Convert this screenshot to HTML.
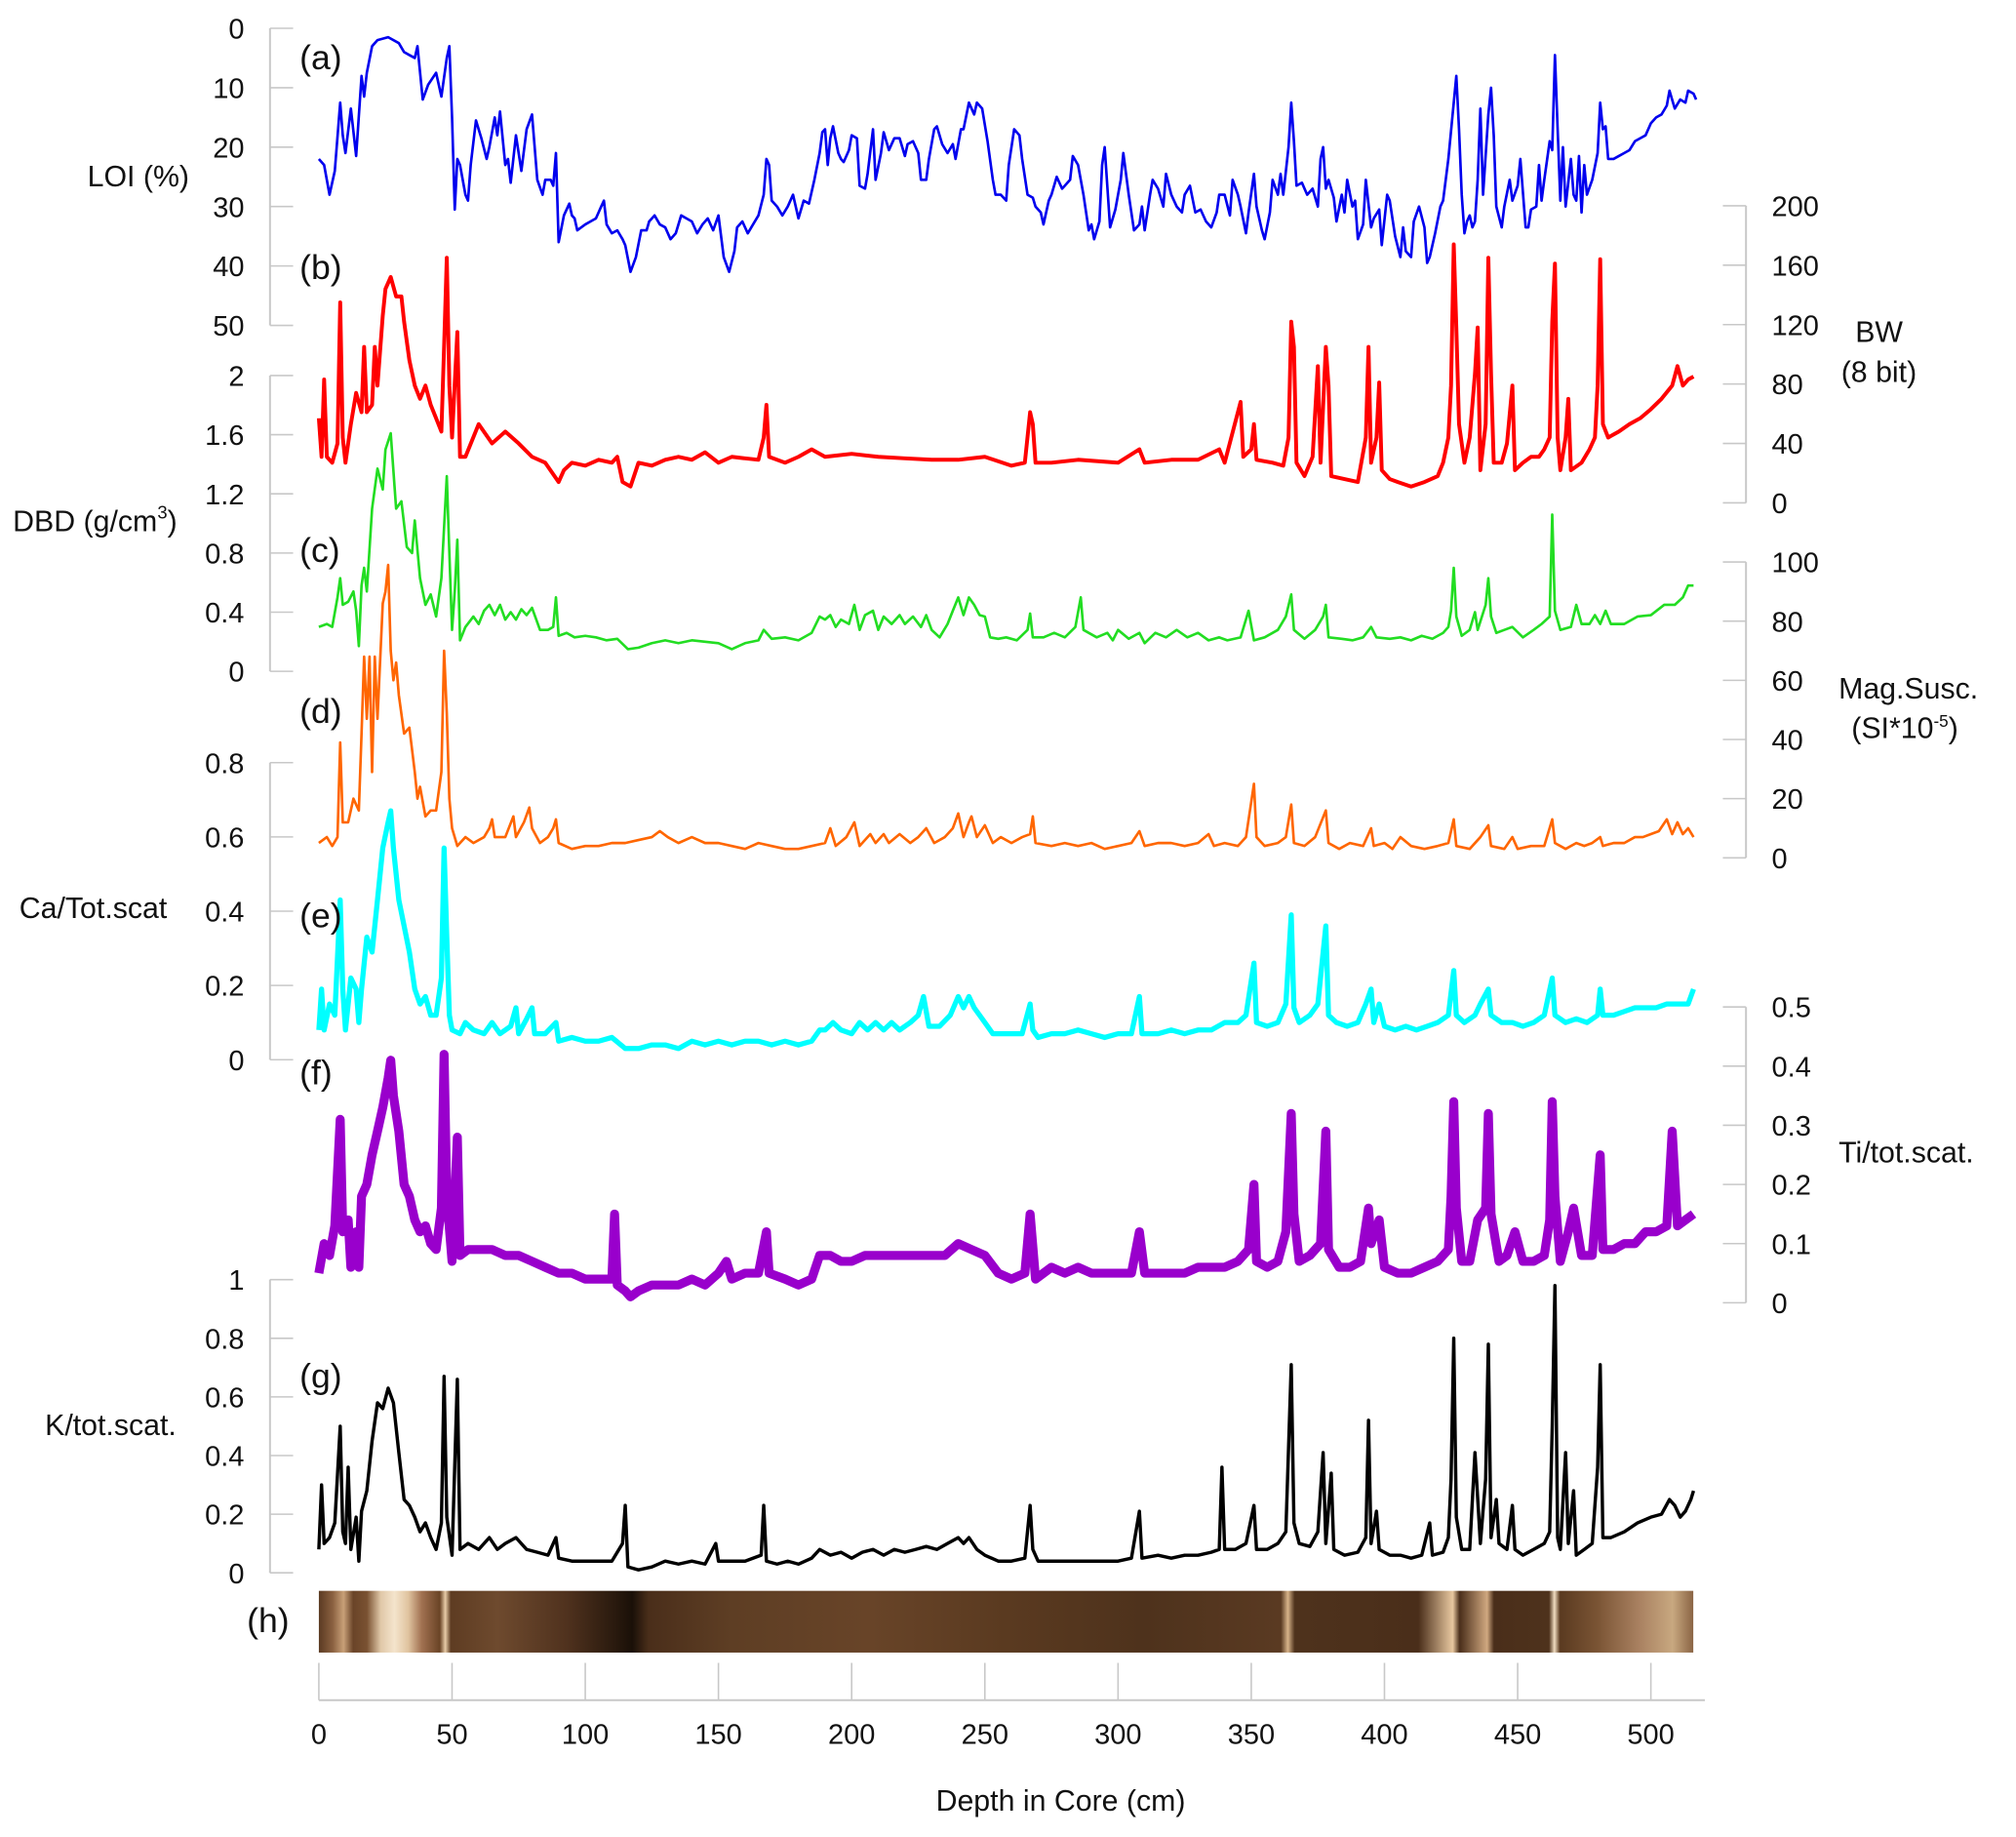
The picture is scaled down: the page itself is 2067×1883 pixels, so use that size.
<!DOCTYPE html>
<html>
<head>
<meta charset="utf-8">
<style>
html,body{margin:0;padding:0;background:#fff;}
svg{display:block;}
text{font-family:"Liberation Sans",Arial,sans-serif;fill:#111;}
</style>
</head>
<body>
<svg id="chart" xmlns="http://www.w3.org/2000/svg" width="2067" height="1883" viewBox="0 0 1568 1428.4">
<defs>
<linearGradient id="coreGrad" x1="0" x2="1" y1="0" y2="0">
<stop offset="0" stop-color="#5a3a22"/>
<stop offset="0.01" stop-color="#8a6040"/>
<stop offset="0.018" stop-color="#c8a078"/>
<stop offset="0.025" stop-color="#6a4428"/>
<stop offset="0.035" stop-color="#7a5232"/>
<stop offset="0.045" stop-color="#e0c8a8"/>
<stop offset="0.055" stop-color="#f4e4cc"/>
<stop offset="0.065" stop-color="#e0c4a0"/>
<stop offset="0.075" stop-color="#a07050"/>
<stop offset="0.088" stop-color="#6a4426"/>
<stop offset="0.092" stop-color="#e8cca8"/>
<stop offset="0.096" stop-color="#5e3c22"/>
<stop offset="0.13" stop-color="#6e4a2e"/>
<stop offset="0.18" stop-color="#50321e"/>
<stop offset="0.215" stop-color="#2a1a0e"/>
<stop offset="0.228" stop-color="#1a1008"/>
<stop offset="0.24" stop-color="#4a2e1a"/>
<stop offset="0.3" stop-color="#5e3e24"/>
<stop offset="0.4" stop-color="#684428"/>
<stop offset="0.5" stop-color="#5a3a20"/>
<stop offset="0.6" stop-color="#4e321c"/>
<stop offset="0.7" stop-color="#5a3a22"/>
<stop offset="0.705" stop-color="#d8b48a"/>
<stop offset="0.71" stop-color="#4e321c"/>
<stop offset="0.8" stop-color="#4a2e1a"/>
<stop offset="0.825" stop-color="#e8c8a0"/>
<stop offset="0.83" stop-color="#4a2e1a"/>
<stop offset="0.85" stop-color="#d0a880"/>
<stop offset="0.855" stop-color="#4a2e1a"/>
<stop offset="0.895" stop-color="#4e321c"/>
<stop offset="0.899" stop-color="#f0dcc0"/>
<stop offset="0.903" stop-color="#5a3a20"/>
<stop offset="0.93" stop-color="#7a5434"/>
<stop offset="0.96" stop-color="#a88060"/>
<stop offset="0.985" stop-color="#c8a880"/>
<stop offset="1" stop-color="#8a6444"/>
</linearGradient>
</defs>
<g id="axes"></g>
<g id="series"></g>
<rect x="248" y="1237" width="1069" height="48" fill="url(#coreGrad)"/>
<g id="labels">
<text x="233" y="54" font-size="27">(a)</text>
<text x="233" y="217" font-size="27">(b)</text>
<text x="233" y="437" font-size="27">(c)</text>
<text x="233" y="562" font-size="27">(d)</text>
<text x="233" y="721" font-size="27">(e)</text>
<text x="233" y="843" font-size="27">(f)</text>
<text x="233" y="1079" font-size="27">(g)</text>
<text x="192" y="1269" font-size="27">(h)</text>
<text x="68" y="145" font-size="23">LOI (%)</text>
<text x="10" y="413" font-size="23">DBD (g/cm<tspan font-size="14" dy="-10">3</tspan><tspan dy="10">)</tspan></text>
<text x="15" y="714" font-size="23">Ca/Tot.scat</text>
<text x="35" y="1116" font-size="23">K/tot.scat.</text>
<text x="1443" y="266" font-size="23">BW</text>
<text x="1432" y="297" font-size="23">(8 bit)</text>
<text x="1430" y="543" font-size="23">Mag.Susc.</text>
<text x="1440" y="574" font-size="23">(SI*10<tspan font-size="13" dy="-9">-5</tspan><tspan dy="9">)</tspan></text>
<text x="1430" y="904" font-size="23">Ti/tot.scat.</text>
<text x="825" y="1408" font-size="23" text-anchor="middle">Depth in Core (cm)</text>
</g>
</svg>
<script>
// ---------- data ----------
const loiDepth=[0,2,4,6,8,9,10,12,14,16,17,18,20,22,26,30,32,34,36,37,39,41,44,46,48,49,50,51,52,53,55,56,57,59,61,63,64,66,67,68,70,71,72,74,76,78,80,82,84,85,87,88,89,90,92,94,95,96,97,100,102,104,106,107,108,110,112,114,115,117,119,121,123,124,126,128,130,132,134,136,138,140,142,144,146,148,150,152,154,156,157,159,161,163,165,167,168,169,170,172,174,176,178,180,182,184,186,188,189,190,191,192,193,195,196,197,199,200,202,203,205,206,208,209,211,212,214,216,218,220,221,223,225,226,228,229,231,232,234,236,238,239,241,242,244,246,247,249,251,253,254,256,258,259,261,263,264,266,268,269,271,272,274,275,277,279,280,282,283,285,287,289,290,291,293,294,295,297,299,301,302,304,306,308,309,310,312,313,315,317,318,320,322,324,325,327,329,331,333,335,337,338,340,342,343,345,346,348,349,351,352,354,355,357,358,360,361,362,364,365,366,367,369,371,373,375,376,377,378,379,381,382,384,385,386,388,389,390,392,393,395,396,398,399,401,402,404,406,407,408,410,411,413,415,416,417,419,421,422,424,426,427,428,429,430,431,432,433,434,435,436,437,439,440,441,442,444,445,447,448,450,451,453,454,455,457,458,459,460,462,463,464,465,466,467,468,470,471,472,473,474,475,476,478,480,481,482,483,484,486,488,490,492,494,496,498,500,502,504,506,507,509,511,513,514,516,517];
const loiValue=[22,23,28,24,12.5,18,21,13.5,21.5,8,11.5,7.5,3,2,1.5,2.5,4,4.5,5,3,12,9.5,7.5,11.5,5,3,15,30.5,22,23,28,29,23,15.5,18.5,22,20,15,18,14,23,22,26,18,24,17,14.5,25.5,28,25.5,25.5,26.5,21,36,31.5,29.5,31.5,32,34,33,32.5,32,30,29,33,34.5,34,35.5,36.5,41,38.5,34,34,32.5,31.5,33,33.5,35.5,34.5,31.5,32,32.5,34.5,33,32,34,31.5,38.5,41,37.5,33.5,32.5,34.5,33,31.5,28,22,23,29,30,31.5,30,28,32,29,29.5,25.5,21,17.5,17,23,18.5,16.5,21,22,22.5,20.5,18,18.5,26.5,27,24.5,17,25.5,21,17.5,20.5,18.5,18.5,21.5,19.5,19,21,25.5,25.5,22,17,16.5,19.5,21,19.5,22,17,17,12.5,14.5,12.5,13.5,19,25.5,28,28,29,23,17,18,22,28,28.5,30,31,33,29,28,25,27,26.5,25.5,21.5,23,28,34,33,35.5,32.5,23,20,33.5,30.5,25.5,21,28,34,33,30,34,28,25.5,27,30,24.5,28,30,31,28,26.5,31,30.5,32.5,33.5,31,28,28,31.5,25.5,28,30,34.5,31,24.5,30,34,35.5,31,25.5,28,24.5,28,20,12.5,19,26.5,26,28,27,30,22,20,27,25.5,28.5,32.5,28,31,25.5,30,29,35.5,33,25.5,33.5,32,30.5,36.5,28,29,35,38.5,33.5,37.5,38.5,32.5,30,33.5,39.5,38.5,34.5,30,29,22,12.5,8,17,28,34.5,32.5,31.5,33.5,32.5,25.5,13.5,28,14.5,10,18,30,33.5,30,25.5,29,26.5,22,33.5,33.5,30.5,30,23,29,25.5,19,20.5,4.5,17,29,20,30,22,28,29,21.5,31,23,28,25.5,21,12.5,17,16.5,22,22,21.5,21,20.5,19,18.5,18,16,15,14.5,13,10.5,13.5,12,12.5,10.5,11,12];

const bwDepth=[0,1,2,3,5,7,8,9,10,12,14,16,17,18,20,21,22,24,25,27,29,31,32,34,36,38,40,42,44,46,47,48,49,50,52,53,55,60,65,70,75,80,85,90,92,95,100,105,110,112,114,117,120,125,130,135,140,145,150,155,160,165,167,168,169,175,180,185,190,200,210,220,230,240,250,260,265,267,268,269,275,285,300,308,310,320,330,338,340,346,347,350,351,352,358,362,364,365,366,367,370,373,375,376,378,379,380,385,390,393,394,395,397,398,399,402,405,410,415,420,422,424,425,426,427,428,430,432,434,435,436,438,439,440,441,444,446,448,449,452,455,458,460,462,463,464,465,466,468,469,470,474,477,479,480,481,482,484,488,492,496,500,504,508,510,512,514,516];
const bwValue=[57,31,83,31,27,40,135,44,27,53,74,61,105,61,66,105,79,126,144,152,139,139,122,96,79,70,79,66,57,48,105,165,79,44,115,31,31,53,40,48,40,31,27,14,22,27,25,29,27,31,14,11,27,25,29,31,29,34,27,31,30,29,44,66,31,27,31,36,31,33,31,30,29,29,31,25,27,61,53,27,27,29,27,36,27,29,29,36,27,68,31,36,53,29,27,25,44,122,105,27,18,31,92,27,105,79,18,16,14,44,105,27,44,81,22,16,14,11,14,18,27,44,79,174,118,53,27,44,87,118,22,53,165,87,27,27,40,79,22,27,31,31,36,44,122,161,44,22,44,70,22,27,36,44,79,164,53,44,48,53,57,63,70,79,92,79,83,85];

const dbdDepth=[0,3,5,7,8,9,11,13,14,15,16,17,18,20,22,24,25,27,29,31,33,35,36,38,40,42,44,46,48,49,50,51,52,53,55,58,60,62,64,66,68,70,72,74,76,78,80,83,86,88,89,90,93,96,100,104,108,112,116,120,125,130,135,140,145,150,155,160,165,167,170,175,180,185,188,190,192,194,196,199,201,203,205,208,210,212,215,218,220,223,226,228,230,233,236,238,240,242,244,246,248,250,252,255,258,262,266,267,268,272,276,280,284,286,287,292,296,298,300,304,308,310,314,318,322,326,330,334,338,341,346,349,351,355,360,363,365,366,370,374,377,378,379,384,388,392,395,397,402,406,410,414,418,422,424,425,426,427,429,432,434,435,438,439,440,442,445,448,452,456,459,462,463,464,466,470,472,474,477,479,481,483,485,490,495,500,505,509,512,514,516];
const dbdValue=[0.30,0.32,0.30,0.50,0.63,0.45,0.47,0.54,0.41,0.17,0.58,0.70,0.54,1.10,1.37,1.23,1.50,1.61,1.10,1.15,0.84,0.80,1.02,0.63,0.45,0.52,0.37,0.63,1.32,0.80,0.28,0.54,0.89,0.21,0.30,0.37,0.32,0.41,0.45,0.38,0.45,0.35,0.40,0.35,0.42,0.38,0.43,0.28,0.28,0.30,0.50,0.24,0.26,0.23,0.24,0.23,0.21,0.22,0.15,0.16,0.19,0.21,0.19,0.21,0.20,0.19,0.15,0.19,0.21,0.28,0.22,0.23,0.21,0.26,0.37,0.35,0.38,0.30,0.35,0.32,0.45,0.28,0.38,0.41,0.28,0.37,0.32,0.38,0.32,0.37,0.30,0.38,0.28,0.23,0.32,0.41,0.50,0.38,0.50,0.45,0.38,0.37,0.23,0.22,0.23,0.21,0.28,0.39,0.23,0.23,0.26,0.23,0.30,0.50,0.28,0.23,0.26,0.21,0.28,0.22,0.26,0.19,0.26,0.23,0.28,0.23,0.26,0.21,0.23,0.21,0.23,0.41,0.21,0.23,0.28,0.37,0.52,0.28,0.22,0.28,0.37,0.45,0.23,0.22,0.21,0.23,0.30,0.23,0.22,0.23,0.21,0.24,0.22,0.26,0.30,0.41,0.70,0.37,0.24,0.28,0.40,0.28,0.45,0.63,0.37,0.26,0.28,0.30,0.23,0.28,0.32,0.37,1.06,0.41,0.28,0.30,0.45,0.32,0.32,0.38,0.32,0.41,0.32,0.32,0.37,0.38,0.45,0.45,0.50,0.58,0.58];

const magDepth=[0,3,5,7,8,9,11,13,15,16,17,18,19,20,21,22,24,25,26,27,28,29,30,32,34,36,37,38,40,42,44,46,47,48,49,50,52,55,58,62,64,65,66,70,73,74,77,79,80,83,86,88,89,90,95,100,105,110,115,120,125,128,131,135,140,145,150,155,160,165,170,175,180,185,190,192,194,198,201,203,207,209,212,214,218,222,225,228,231,235,238,240,242,244,245,247,250,253,256,260,264,267,268,269,275,280,285,290,295,300,305,308,310,315,320,325,330,334,336,340,345,348,351,352,355,360,363,365,366,370,374,378,379,383,387,392,395,396,400,403,406,410,415,420,424,426,427,432,436,439,440,445,448,450,455,460,463,464,468,472,475,478,481,482,486,490,494,497,500,503,506,508,510,512,514,516];
const magValue=[5,7,4,7,39,12,12,20,16,42,68,47,68,29,68,47,86,90,99,70,60,66,55,42,44,29,20,24,14,16,16,29,70,49,20,10,4,7,5,7,10,13,7,7,14,7,12,17,10,5,7,10,13,5,3,4,4,5,5,6,7,9,7,5,7,5,5,4,3,5,4,3,3,4,5,10,4,7,12,4,8,5,8,5,8,5,7,10,5,7,10,15,7,12,14,7,11,5,7,5,7,8,14,5,4,5,4,5,3,4,5,9,4,5,5,4,5,8,4,5,4,7,25,7,4,5,7,18,5,4,7,16,5,3,5,4,10,4,5,3,7,4,3,4,5,13,4,3,7,11,4,3,7,3,4,4,13,5,3,5,4,5,7,4,5,5,7,7,8,9,13,8,12,8,10,7];

const caDepth=[0,1,2,4,6,8,9,10,12,14,15,16,18,20,22,24,26,27,28,30,32,34,36,38,40,42,44,46,47,48,49,50,53,55,58,62,65,68,72,74,75,78,80,81,85,89,90,95,100,105,110,115,120,125,130,135,140,145,150,155,160,165,170,175,180,185,188,190,193,196,200,203,206,209,212,215,218,222,225,227,229,233,237,240,242,244,246,248,250,253,257,260,264,267,268,270,275,280,285,290,295,300,305,308,309,315,320,325,330,335,340,345,348,351,352,356,360,363,365,366,368,372,375,378,379,382,386,390,393,395,396,398,400,404,408,412,416,420,424,426,427,430,434,436,439,440,444,448,452,456,460,463,464,468,472,476,480,481,482,486,490,494,498,502,506,510,514,516];
const caValue=[0.08,0.19,0.08,0.15,0.12,0.43,0.19,0.08,0.22,0.19,0.10,0.19,0.33,0.29,0.43,0.57,0.64,0.67,0.57,0.43,0.36,0.29,0.19,0.15,0.17,0.12,0.12,0.22,0.57,0.33,0.12,0.08,0.07,0.10,0.08,0.07,0.10,0.07,0.09,0.14,0.07,0.11,0.14,0.07,0.07,0.10,0.05,0.06,0.05,0.05,0.06,0.03,0.03,0.04,0.04,0.03,0.05,0.04,0.05,0.04,0.05,0.05,0.04,0.05,0.04,0.05,0.08,0.08,0.10,0.08,0.07,0.10,0.08,0.10,0.08,0.10,0.08,0.10,0.12,0.17,0.09,0.09,0.12,0.17,0.14,0.17,0.14,0.12,0.10,0.07,0.07,0.07,0.07,0.15,0.08,0.06,0.07,0.07,0.08,0.07,0.06,0.07,0.07,0.17,0.07,0.07,0.08,0.07,0.08,0.08,0.10,0.10,0.12,0.26,0.10,0.09,0.10,0.15,0.39,0.14,0.10,0.12,0.15,0.36,0.12,0.10,0.09,0.10,0.15,0.19,0.10,0.15,0.09,0.08,0.09,0.08,0.09,0.10,0.12,0.24,0.12,0.10,0.12,0.15,0.19,0.12,0.10,0.10,0.09,0.10,0.12,0.22,0.12,0.10,0.11,0.10,0.12,0.19,0.12,0.12,0.13,0.14,0.14,0.14,0.15,0.15,0.15,0.19];

const tiDepth=[0,2,4,6,8,9,11,12,14,15,16,18,20,22,24,26,27,28,30,32,34,36,38,40,42,44,46,47,48,50,52,53,56,60,65,70,75,80,85,90,95,100,105,110,111,112,115,117,120,125,130,135,140,145,150,153,155,160,165,168,169,175,180,185,188,192,196,200,205,210,215,220,225,230,235,240,245,250,255,260,265,267,269,275,280,285,290,295,300,305,308,310,315,320,325,330,335,340,345,349,351,352,356,360,363,365,366,368,372,376,378,379,383,387,391,394,395,398,400,405,410,415,420,424,425,426,427,429,432,435,438,439,440,443,446,449,452,456,460,462,463,464,466,469,471,474,478,481,482,486,490,494,498,502,506,508,510,513,516];
const tiValue=[0.05,0.10,0.08,0.13,0.31,0.12,0.14,0.06,0.12,0.06,0.18,0.20,0.25,0.29,0.33,0.38,0.41,0.35,0.29,0.20,0.18,0.14,0.12,0.13,0.10,0.09,0.16,0.42,0.18,0.07,0.28,0.08,0.09,0.09,0.09,0.08,0.08,0.07,0.06,0.05,0.05,0.04,0.04,0.04,0.15,0.03,0.02,0.01,0.02,0.03,0.03,0.03,0.04,0.03,0.05,0.07,0.04,0.05,0.05,0.12,0.05,0.04,0.03,0.04,0.08,0.08,0.07,0.07,0.08,0.08,0.08,0.08,0.08,0.08,0.08,0.10,0.09,0.08,0.05,0.04,0.05,0.15,0.04,0.06,0.05,0.06,0.05,0.05,0.05,0.05,0.12,0.05,0.05,0.05,0.05,0.06,0.06,0.06,0.07,0.09,0.20,0.07,0.06,0.07,0.12,0.32,0.15,0.07,0.08,0.10,0.29,0.09,0.06,0.06,0.07,0.16,0.10,0.14,0.06,0.05,0.05,0.06,0.07,0.09,0.18,0.34,0.16,0.07,0.07,0.14,0.16,0.32,0.15,0.07,0.08,0.12,0.07,0.07,0.08,0.14,0.34,0.18,0.07,0.12,0.16,0.08,0.08,0.25,0.09,0.09,0.10,0.10,0.12,0.12,0.13,0.29,0.13,0.14,0.15];

const kDepth=[0,1,2,4,6,8,9,10,11,12,14,15,16,18,20,22,24,26,28,30,32,34,36,38,40,42,44,46,47,48,50,52,53,56,60,64,67,70,74,78,82,86,89,90,95,100,105,110,114,115,116,120,125,130,135,140,145,149,150,155,160,166,167,168,172,176,180,185,188,192,196,200,204,208,212,216,220,224,228,232,236,240,242,244,247,250,255,260,265,267,268,270,275,280,285,290,295,300,305,308,309,315,320,325,330,335,338,339,340,344,348,351,352,356,360,363,365,366,368,372,375,377,378,380,381,385,390,393,394,395,397,398,402,406,410,414,417,418,422,424,425,426,427,429,432,434,436,438,439,440,442,443,446,448,449,452,456,460,462,463,464,465,466,468,469,471,472,475,478,480,481,482,485,490,495,500,504,507,509,511,513,515,516];
const kValue=[0.08,0.30,0.10,0.12,0.17,0.50,0.14,0.10,0.36,0.08,0.19,0.04,0.21,0.28,0.45,0.58,0.56,0.63,0.58,0.41,0.25,0.23,0.19,0.14,0.17,0.12,0.08,0.17,0.67,0.19,0.06,0.66,0.08,0.10,0.08,0.12,0.08,0.10,0.12,0.08,0.07,0.06,0.12,0.05,0.04,0.04,0.04,0.04,0.10,0.23,0.02,0.01,0.02,0.04,0.03,0.04,0.03,0.10,0.04,0.04,0.04,0.06,0.23,0.04,0.03,0.04,0.03,0.05,0.08,0.06,0.07,0.05,0.07,0.08,0.06,0.08,0.07,0.08,0.09,0.08,0.10,0.12,0.10,0.12,0.08,0.06,0.04,0.04,0.05,0.23,0.08,0.04,0.04,0.04,0.04,0.04,0.04,0.04,0.05,0.21,0.05,0.06,0.05,0.06,0.06,0.07,0.08,0.36,0.08,0.08,0.10,0.23,0.08,0.08,0.10,0.14,0.71,0.17,0.10,0.09,0.14,0.41,0.10,0.34,0.08,0.06,0.07,0.12,0.52,0.10,0.21,0.08,0.06,0.06,0.05,0.06,0.17,0.06,0.07,0.12,0.32,0.80,0.19,0.08,0.08,0.41,0.10,0.32,0.78,0.12,0.25,0.10,0.08,0.23,0.08,0.06,0.08,0.10,0.14,0.50,0.98,0.12,0.08,0.41,0.10,0.28,0.06,0.08,0.10,0.36,0.71,0.12,0.12,0.14,0.17,0.19,0.20,0.25,0.23,0.19,0.21,0.25,0.28];

const xTicks=[0,50,100,150,200,250,300,350,400,450,500];
const loiTicks=[0,10,20,30,40,50];
const dbdTicks=[2,1.6,1.2,0.8,0.4,0];
const caTicks=[0.8,0.6,0.4,0.2,0];
const kTicks=[1,0.8,0.6,0.4,0.2,0];
const bwTicks=[200,160,120,80,40,0];
const magTicks=[100,80,60,40,20,0];
const tiTicks=[0.5,0.4,0.3,0.2,0.1,0];

// ---------- scales (display units; viewBox scales to pixels) ----------
const NS='http://www.w3.org/2000/svg';
function xS(d){return 248+d*2.072;}
function lin(v0,y0,v1,y1){return v=>y0+(v-v0)*(y1-y0)/(v1-v0);}
const yLoi=lin(0,22,50,253);
const yDbd=lin(0,522,2,292);
const yCa=lin(0,824,0.8,593);
const yK=lin(0,1223,1,995);
const yBw=lin(0,391,200,160);
const yMag=lin(0,667,100,437);
const yTi=lin(0,1013,0.5,783);

const axesG=document.getElementById('axes');
const seriesG=document.getElementById('series');
function mk(tag,attrs,parent){const e=document.createElementNS(NS,tag);for(const k in attrs)e.setAttribute(k,attrs[k]);parent.appendChild(e);return e;}

function fmt(v){return String(v);}
function leftAxis(ticks,scale,name){
  const ys=ticks.map(scale);
  const l=mk('line',{x1:210,x2:210,y1:Math.min(...ys),y2:Math.max(...ys),stroke:'#c8c8c8','stroke-width':1.5},axesG);
  
  
  ticks.forEach(t=>{
    const y=scale(t);
    const tk=mk('line',{x1:210,x2:228,y1:y,y2:y,stroke:'#c8c8c8','stroke-width':1.2},axesG);
    
    
    const tx=mk('text',{x:190,y:y+8,'font-size':22,'text-anchor':'end'},axesG);
    tx.textContent=fmt(t);
    
    
  });
}
function rightAxis(ticks,scale,name){
  const ys=ticks.map(scale);
  const l=mk('line',{x1:1358,x2:1358,y1:Math.min(...ys),y2:Math.max(...ys),stroke:'#c8c8c8','stroke-width':1.5},axesG);
  
  
  ticks.forEach(t=>{
    const y=scale(t);
    const tk=mk('line',{x1:1340,x2:1358,y1:y,y2:y,stroke:'#c8c8c8','stroke-width':1.2},axesG);
    
    
    const tx=mk('text',{x:1378,y:y+8,'font-size':22,'text-anchor':'start'},axesG);
    tx.textContent=fmt(t);
    
    
  });
}
leftAxis(loiTicks,yLoi,'loi');
leftAxis(dbdTicks,yDbd,'dbd');
leftAxis(caTicks,yCa,'ca');
leftAxis(kTicks,yK,'k');
rightAxis(bwTicks,yBw,'bw');
rightAxis(magTicks,yMag,'mag');
rightAxis(tiTicks,yTi,'ti');

// x axis
const xl=mk('line',{x1:248,x2:1326,y1:1322,y2:1322,stroke:'#c8c8c8','stroke-width':1.5},axesG);


xTicks.forEach(t=>{
  const x=xS(t);
  const tk=mk('line',{x1:x,x2:x,y1:1293,y2:1322,stroke:'#c8c8c8','stroke-width':1.2},axesG);
  
  
  const tx=mk('text',{x:x,y:1356,'font-size':22,'text-anchor':'middle'},axesG);
  tx.textContent=String(t);
  
  
});

function drawSeries(depths,values,scale,color,width,name){
  let d='';
  depths.forEach((dp,i)=>{d+=(i?'L':'M')+xS(dp).toFixed(1)+' '+scale(values[i]).toFixed(1);});
  const p=mk('path',{d:d,fill:'none',stroke:color,'stroke-width':width,'stroke-linejoin':'round'},seriesG);
  
  
}
drawSeries(loiDepth,loiValue,yLoi,'#0000ee',2,'loi-line');
drawSeries(bwDepth,bwValue,yBw,'#ff0000',3,'bw-line');
drawSeries(dbdDepth,dbdValue,yDbd,'#22dd22',2,'dbd-line');
drawSeries(magDepth,magValue,yMag,'#ff6600',2,'mag-susc-line');
drawSeries(caDepth,caValue,yCa,'#00ffff',4,'ca-line');
drawSeries(tiDepth,tiValue,yTi,'#9900cc',7,'ti-line');
drawSeries(kDepth,kValue,yK,'#000000',2.6,'k-line');
</script>
</body>
</html>
